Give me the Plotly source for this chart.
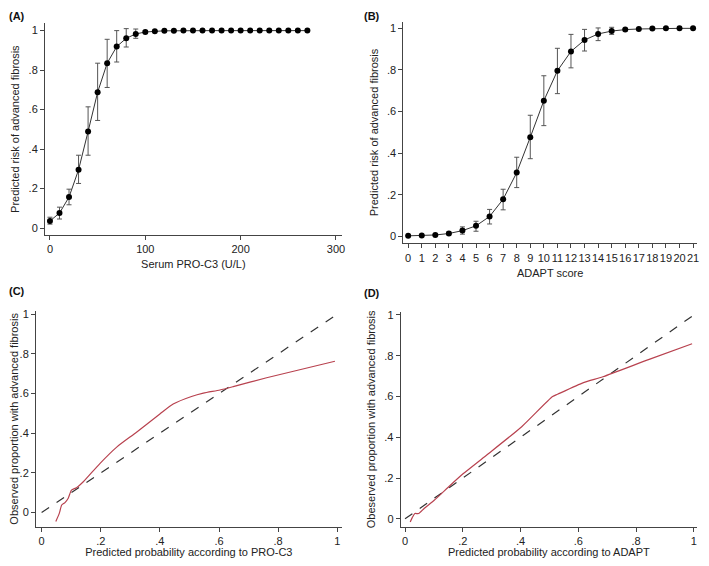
import plotly.graph_objects as go

# ─── data ────────────────────────────────────────────────
# (A) serum PRO-C3
proc3_x = [0, 10, 20, 30, 40, 50, 60, 70, 80, 90, 100, 110, 120, 130, 140,
           150, 160, 170, 180, 190, 200, 210, 220, 230, 240, 250, 260, 270]
proc3_y = [0.036, 0.076, 0.157, 0.295, 0.489, 0.688, 0.835, 0.919, 0.961, 0.983,
           0.993, 0.997, 0.999, 0.999, 1, 1, 1, 1, 1, 1, 1, 1, 1, 1, 1, 1, 1, 1]
proc3_hi = [0.055, 0.106, 0.197, 0.369, 0.614, 0.835, 0.956, 1.0, 1.01, 1.008,
            1.0, 0.999, 1, 1, 1, 1, 1, 1, 1, 1, 1, 1, 1, 1, 1, 1, 1, 1]
proc3_lo = [0.02, 0.046, 0.118, 0.226, 0.369, 0.545, 0.712, 0.841, 0.917, 0.961,
            0.985, 0.995, 0.998, 0.999, 1, 1, 1, 1, 1, 1, 1, 1, 1, 1, 1, 1, 1, 1]

# (B) ADAPT score
adapt_x = list(range(22))
adapt_y = [0.002, 0.003, 0.006, 0.013, 0.027, 0.05, 0.095, 0.178, 0.306, 0.476, 0.652,
           0.796, 0.889, 0.944, 0.973, 0.987, 0.994, 0.997, 0.999, 1, 1, 1]
adapt_hi = [0.003, 0.005, 0.009, 0.02, 0.045, 0.072, 0.129, 0.226, 0.38, 0.582, 0.772,
            0.904, 0.971, 0.995, 1.002, 1.005, 0.999, 0.999, 1, 1, 1, 1]
adapt_lo = [0.001, 0.001, 0.003, 0.007, 0.01, 0.024, 0.059, 0.127, 0.234, 0.373, 0.532,
            0.686, 0.81, 0.891, 0.941, 0.971, 0.988, 0.995, 0.998, 1, 1, 1]

# (C) calibration PRO-C3
cal_c_x = [0.048, 0.060, 0.068, 0.079, 0.09, 0.101, 0.118, 0.141, 0.197, 0.254, 0.321,
           0.40, 0.445, 0.507, 0.547, 0.603, 0.648, 0.761, 0.992]
cal_c_y = [-0.045, -0.003, 0.038, 0.05, 0.072, 0.113, 0.125, 0.155, 0.247, 0.33, 0.405,
           0.497, 0.547, 0.585, 0.602, 0.618, 0.635, 0.68, 0.763]

# (D) calibration ADAPT
cal_d_x = [0.018, 0.025, 0.034, 0.047, 0.067, 0.101, 0.157, 0.202, 0.281, 0.404, 0.511,
           0.528, 0.618, 0.685, 0.843, 0.994]
cal_d_y = [-0.016, 0.006, 0.026, 0.026, 0.052, 0.091, 0.165, 0.222, 0.311, 0.452, 0.60,
           0.611, 0.668, 0.697, 0.781, 0.859]

ref_line = [0, 1]

# page body has an 8px margin, so the figure starts at (8, 8);
# height kept so the page doesn't get a scrollbar
OFF = 8
W, H = 709 - OFF, 566 - 2 * OFF
FONT = "Liberation Sans, Arial, sans-serif"
RED = "#b8424f"
prob_vals = [0, 0.2, 0.4, 0.6, 0.8, 1]
prob_text = ["0", ".2", ".4", ".6", ".8", "1"]


def dom_x(a, b):
    return [(a - OFF) / W, min((b - OFF) / W, 1)]


def dom_y(top, bottom):
    return [1 - (bottom - OFF) / H, 1 - (top - OFF) / H]


fig = go.Figure()


def point_trace(x, y, hi, lo, xa, ya):
    fig.add_trace(go.Scatter(
        x=x, y=y, mode="lines+markers", xaxis=xa, yaxis=ya,
        line=dict(color="#333333", width=1),
        marker=dict(color="black", size=6),
        error_y=dict(type="data", symmetric=False,
                     array=[h - v for h, v in zip(hi, y)],
                     arrayminus=[v - l for v, l in zip(y, lo)],
                     color="#555555", thickness=1, width=2.5),
        showlegend=False, hoverinfo="x+y"))


point_trace(proc3_x, proc3_y, proc3_hi, proc3_lo, "x", "y")
point_trace(adapt_x, adapt_y, adapt_hi, adapt_lo, "x2", "y2")

for xs, ys, xa, ya in [(cal_c_x, cal_c_y, "x3", "y3"), (cal_d_x, cal_d_y, "x4", "y4")]:
    fig.add_trace(go.Scatter(x=ref_line, y=ref_line, mode="lines", xaxis=xa, yaxis=ya,
                             line=dict(color="#333333", width=1.2, dash="dash"),
                             showlegend=False))
    fig.add_trace(go.Scatter(x=xs, y=ys, mode="lines", xaxis=xa, yaxis=ya,
                             line=dict(color=RED, width=1.2, shape="spline", smoothing=0.6),
                             showlegend=False))

axis_common = dict(showline=True, linecolor="#444444", linewidth=1, ticks="outside",
                   ticklen=4, tickcolor="#444444", showgrid=False, zeroline=False,
                   tickangle=0, ticklabeloverflow="allow", automargin=False,
                   tickfont=dict(size=11, color="#222222"),
                   title_font=dict(size=11, color="#222222"))

fig.update_layout(
    width=W, height=H, margin=dict(l=0, r=0, t=0, b=0),
    paper_bgcolor="white", plot_bgcolor="white",
    font=dict(family=FONT, color="#222222"),
    xaxis=dict(axis_common, domain=dom_x(45, 341.7), range=[-5.2, 306], anchor="y",
               tickvals=[0, 100, 200, 300], title=dict(text="Serum PRO-C3 (U/L)", standoff=6)),
    yaxis=dict(axis_common, domain=dom_y(23.3, 235), range=[-0.035, 1.037], anchor="x",
               tickvals=prob_vals, ticktext=prob_text,
               title=dict(text="Predicted risk of advanced fibrosis", standoff=6)),
    xaxis2=dict(axis_common, domain=dom_x(403.3, 697), range=[-0.36, 21.29], anchor="y2",
                tickvals=adapt_x, title=dict(text="ADAPT score", standoff=6)),
    yaxis2=dict(axis_common, domain=dom_y(21.7, 243.3), range=[-0.034, 1.032], anchor="x2",
                tickvals=prob_vals, ticktext=prob_text,
                title=dict(text="Predicted risk of advanced fibrosis", standoff=6)),
    xaxis3=dict(axis_common, domain=dom_x(36, 341.7), range=[-0.019, 1.015], anchor="y3",
                tickvals=prob_vals, ticktext=prob_text,
                title=dict(text="Predicted probability according to PRO-C3", standoff=3)),
    yaxis3=dict(axis_common, domain=dom_y(310.7, 527), range=[-0.073, 1.018], anchor="x3",
                tickvals=prob_vals, ticktext=prob_text,
                title=dict(text="Observed proportion with advanced fibrosis", standoff=6)),
    xaxis4=dict(axis_common, domain=dom_x(400.7, 697), range=[-0.015, 1.011], anchor="y4",
                tickvals=prob_vals, ticktext=prob_text,
                title=dict(text="Predicted probability according to ADAPT", standoff=3)),
    yaxis4=dict(axis_common, domain=dom_y(311.7, 527), range=[-0.04, 1.016], anchor="x4",
                tickvals=prob_vals, ticktext=prob_text,
                title=dict(text="Obeserved proportion with advanced fibrosis", standoff=6)),
)

for label, x, y in [("(A)", 7, 8), ("(B)", 362, 8), ("(C)", 7, 283), ("(D)", 362, 285)]:
    fig.add_annotation(text="<b>%s</b>" % label, x=(x - OFF) / W, y=1 - (y - OFF) / H,
                       xref="paper", yref="paper", xanchor="left", yanchor="top",
                       showarrow=False, font=dict(size=11, color="#111111"))

fig.write_html("out.html")
